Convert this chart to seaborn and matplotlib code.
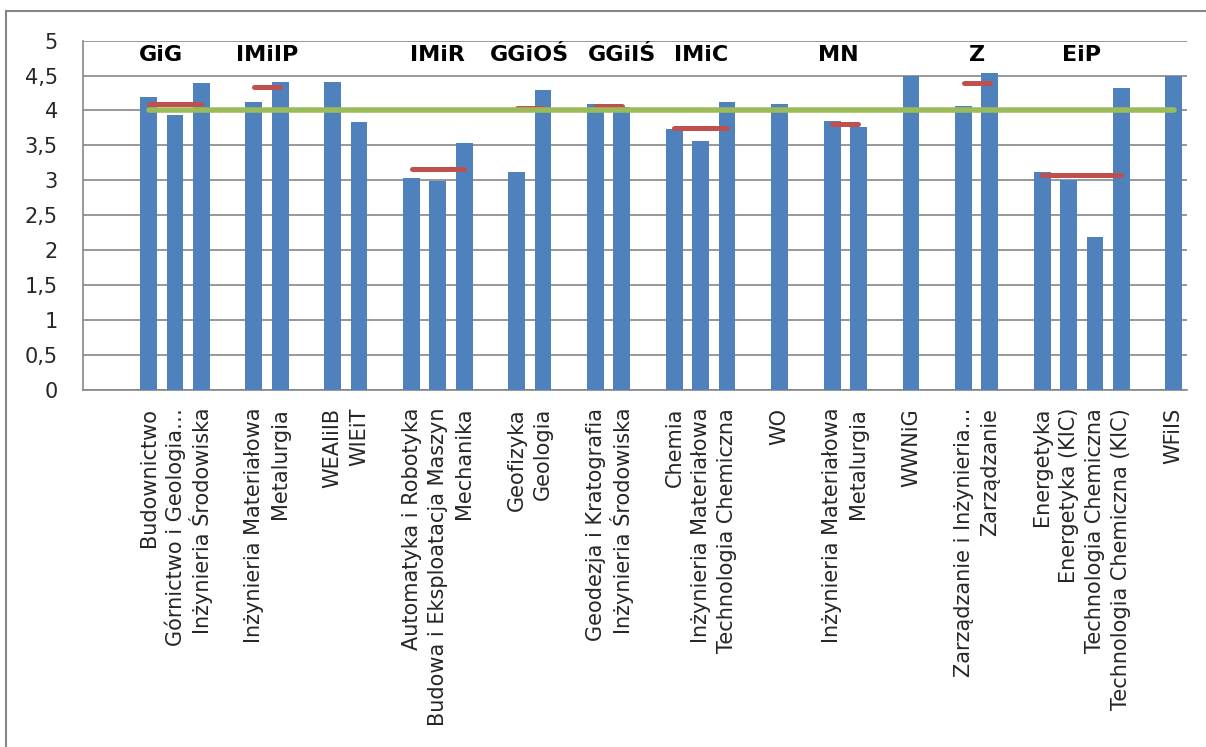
import numpy as np
import pandas as pd
import matplotlib.pyplot as plt
import seaborn as sns
from matplotlib.patches import Rectangle

# one entry per category slot on the x axis ('' = empty gap slot)
kierunki = ['', '', 'Budownictwo', 'Górnictwo i Geologia…', 'Inżynieria Środowiska', '',
            'Inżynieria Materiałowa', 'Metalurgia', '', 'WEAIiIB', 'WIEiT', '',
            'Automatyka i Robotyka', 'Budowa i Eksploatacja Maszyn', 'Mechanika', '',
            'Geofizyka', 'Geologia', '', 'Geodezja i Kratografia', 'Inżynieria Środowiska', '',
            'Chemia', 'Inżynieria Materiałowa', 'Technologia Chemiczna', '', 'WO', '',
            'Inżynieria Materiałowa', 'Metalurgia', '', 'WWNiG', '',
            'Zarządzanie i Inżynieria…', 'Zarządzanie', '',
            'Energetyka', 'Energetyka (KIC)', 'Technologia Chemiczna', 'Technologia Chemiczna (KIC)', '',
            'WFiIS']
oceny = [np.nan, np.nan, 4.20, 3.93, 4.40, np.nan,
         4.12, 4.41, np.nan, 4.41, 3.83, np.nan,
         3.03, 2.99, 3.54, np.nan,
         3.12, 4.29, np.nan, 4.09, 4.05, np.nan,
         3.74, 3.56, 4.12, np.nan, 4.10, np.nan,
         3.85, 3.77, np.nan, 4.50, np.nan,
         4.06, 4.54, np.nan,
         3.12, 3.00, 2.19, 4.32, np.nan,
         4.50]
wydzial = ['', '', 'GiG', 'GiG', 'GiG', '',
           'IMiIP', 'IMiIP', '', '', '', '',
           'IMiR', 'IMiR', 'IMiR', '',
           'GGiOŚ', 'GGiOŚ', '', 'GGiIŚ', 'GGiIŚ', '',
           'IMiC', 'IMiC', 'IMiC', '', '', '',
           'MN', 'MN', '', '', '',
           'Z', 'Z', '',
           'EiP', 'EiP', 'EiP', 'EiP', '',
           '']

# faculty averages (red segments)
wydzialy = ['GiG', 'IMiIP', 'IMiR', 'GGiOŚ', 'GGiIŚ', 'IMiC', 'MN', 'Z', 'EiP']
srednie = [4.09, 4.33, 3.16, 4.04, 4.07, 3.75, 3.80, 4.40, 3.08]
srednia_uczelni = 4.0

df = pd.DataFrame({'slot': range(len(kierunki)), 'kierunek': kierunki,
                   'ocena': oceny, 'wydzial': wydzial})

sns.set_theme(style='white')
plt.rcParams['font.family'] = ['DejaVu Sans']

fig = plt.figure(figsize=(12.06, 7.47), dpi=100)
ax = fig.add_axes([0.0688, 0.478, 0.9154, 0.4676])

gray = '#868686'
n = len(kierunki)
sns.barplot(data=df.dropna(), x='slot', y='ocena', order=list(range(n)),
            color='#4F81BD', saturation=1, width=0.64, linewidth=0,
            ax=ax, zorder=3)

# faculty average segments
for w, s in zip(wydzialy, srednie):
    idx = df.index[df['wydzial'] == w]
    ax.plot([idx.min(), idx.max()], [s, s], color='#C0504D', lw=3.6,
            solid_capstyle='round', zorder=4)

# university average
bars = df.dropna()
ax.plot([bars['slot'].min(), bars['slot'].max()], [srednia_uczelni] * 2,
        color='#9BBB59', lw=4, solid_capstyle='round', zorder=5)

# faculty labels
nudge = {'GiG': -0.55, 'GGiIŚ': 0.5, 'MN': -0.25}
for w in wydzialy:
    idx = df.index[df['wydzial'] == w]
    xm = (idx.min() + idx.max()) / 2 + nudge.get(w, 0)
    ax.text(xm, 4.79, w, ha='center', va='center', fontsize=16,
            fontweight='bold', color='black', zorder=6)

ax.set_xlim(-0.5, n - 0.5)
ax.set_ylim(0, 5)
ax.set_yticks(np.arange(0, 5.01, 0.5))
ax.set_yticklabels([f'{v:g}'.replace('.', ',') for v in np.arange(0, 5.01, 0.5)])
ax.set_xticks(range(n))
ax.set_xticklabels(kierunki, rotation=90, ha='center', va='top')
ax.set_xticks(np.arange(-0.5, n, 1), minor=True)
ax.tick_params(axis='x', which='major', length=0, pad=13, labelsize=15)
ax.tick_params(axis='x', which='minor', length=6, width=1.2, color=gray, direction='out')
ax.tick_params(axis='y', length=6, width=1.2, color=gray, direction='out', pad=12, labelsize=15)
ax.yaxis.grid(True, color=gray, lw=1.2)
ax.set_axisbelow(True)
ax.set_xlabel('')
ax.set_ylabel('')
for side in ['top', 'right']:
    ax.spines[side].set_visible(False)
for side in ['left', 'bottom']:
    ax.spines[side].set_color(gray)
    ax.spines[side].set_linewidth(1.2)

# outer chart border
fig.patches.append(Rectangle((6 / 1206, -0.1), 2, 1 - 11 / 747 + 0.1,
                             transform=fig.transFigure, fill=False,
                             edgecolor=gray, lw=1.5))

fig.savefig('out.png', dpi=100)
